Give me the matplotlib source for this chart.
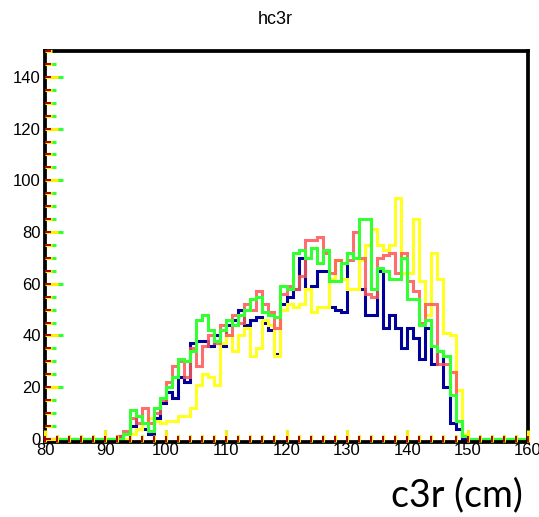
import numpy as np
import matplotlib
matplotlib.use("Agg")
import matplotlib.pyplot as plt

plt.rcParams['font.family'] = ['Liberation Sans', 'DejaVu Sans']

# ---- data ----
x_min, x_max = 80, 160          # histogram range (cm), 1 cm bins
first_bin = 90                  # first listed bin (lower edge)
title = "hc3r"
x_label = "c3r (cm)"
y_max = 150

blue = [0, 0, 1, 2, 5, 9, 4, 2, 8, 14,
        18, 16, 24, 22, 37, 38, 38, 36, 40, 36,
        44, 46, 50, 44, 46, 47, 45, 42, 33, 52,
        55, 58, 70, 58, 59, 65, 65, 51, 50, 49,
        72, 70, 58, 48, 48, 65, 43, 48, 43, 35,
        43, 39, 31, 43, 29, 34, 20, 6, 4, 0]
red = [0, 0, 1, 3, 8, 6, 12, 6, 10, 15,
       22, 28, 30, 24, 35, 28, 36, 40, 37, 44,
       40, 48, 45, 52, 50, 57, 52, 49, 43, 56,
       59, 58, 63, 77, 77, 78, 72, 64, 69, 68,
       69, 80, 70, 56, 55, 70, 71, 72, 64, 72,
       61, 57, 45, 52, 52, 29, 29, 26, 7, 1]
green = [0, 0, 0, 2, 11, 9, 6, 3, 12, 16,
         20, 24, 31, 30, 34, 46, 48, 42, 38, 42,
         46, 44, 48, 50, 54, 55, 49, 48, 47, 59,
         58, 72, 73, 70, 74, 68, 73, 61, 61, 68,
         72, 70, 85, 85, 58, 66, 65, 62, 62, 70,
         54, 54, 44, 46, 36, 34, 32, 17, 7, 1]
yellow = [0, 0, 0, 0, 2, 4, 6, 8, 7, 6,
          7, 7, 9, 9, 12, 21, 25, 24, 21, 37,
          40, 34, 40, 43, 32, 35, 46, 44, 32, 50,
          52, 51, 52, 58, 49, 51, 51, 62, 69, 62,
          58, 58, 69, 75, 81, 75, 73, 75, 93, 64,
          64, 85, 61, 48, 72, 62, 41, 40, 19, 2]

series = [("blue", blue, "#000099", 1.0),
          ("yellow", yellow, "#ffff22", 1.0),
          ("red", red, "#ff5555", 0.85),
          ("green", green, "#33ff33", 1.0)]

edges = np.arange(x_min, x_max + 1)
y_lo = -1.2

W, H = 539, 517
fig = plt.figure(figsize=(W / 100, H / 100), dpi=100)
L, R, T, B = 45, 528, 51, 442
rect = [L / W, 1 - B / H, (R - L) / W, (B - T) / H]
ax = fig.add_axes(rect)

for name, vals, col, a in series:
    full = np.zeros(len(edges) - 1)
    full[first_bin - x_min:first_bin - x_min + len(vals)] = vals
    ax.stairs(full, edges, color=col, alpha=a, linewidth=2.2, zorder=3)

ax.set_xlim(x_min, x_max)
ax.set_ylim(y_lo, y_max)
for s in ax.spines.values():
    s.set_linewidth(2.7)
    s.set_color("black")
    s.set_zorder(5)

ax.set_xticks(np.arange(80, 161, 10))
ax.set_xticks(np.arange(80, 161, 2), minor=True)
ax.set_yticks(np.arange(0, 141, 20))
ax.set_yticks(np.arange(0, 151, 5), minor=True)
ax.tick_params(which='both', direction='in', color='#33ff33', width=2.2,
               top=False, right=False, labelsize=12, pad=3)
ax.tick_params(which='major', length=13)
ax.tick_params(which='minor', length=8)
ax.tick_params(axis='x', which='major', length=9)
ax.tick_params(axis='x', which='minor', length=5)
ax.tick_params(axis='x', pad=1)

# overlay tick layers (yellow and dark red) like ROOT's overdrawn axes
for col, lmaj, lmin, wd in [("#ffee00", 9, 5, 2.2), ("#aa0000", 4, 4, 1.4)]:
    o = fig.add_axes(rect, frameon=False, label=col)
    o.set_xlim(x_min, x_max)
    o.set_ylim(y_lo, y_max)
    o.patch.set_visible(False)
    o.set_xticks(ax.get_xticks())
    o.set_xticks(np.arange(80, 161, 2), minor=True)
    o.set_yticks(ax.get_yticks())
    o.set_yticks(np.arange(0, 151, 5), minor=True)
    o.tick_params(which='both', direction='in', color=col, width=wd,
                  labelbottom=False, labelleft=False, top=False, right=False)
    o.tick_params(which='major', length=lmaj)
    o.tick_params(which='minor', length=lmin)

fig.text(0.5 + 0.01, 1 - 20 / H, title, ha='center', va='center', fontsize=13)
fig.text(523 / W, 1 - 495 / H, x_label, ha='right', va='center',
         fontsize=27, family=['Lato', 'DejaVu Sans'])

fig.savefig("out.png", dpi=100)
